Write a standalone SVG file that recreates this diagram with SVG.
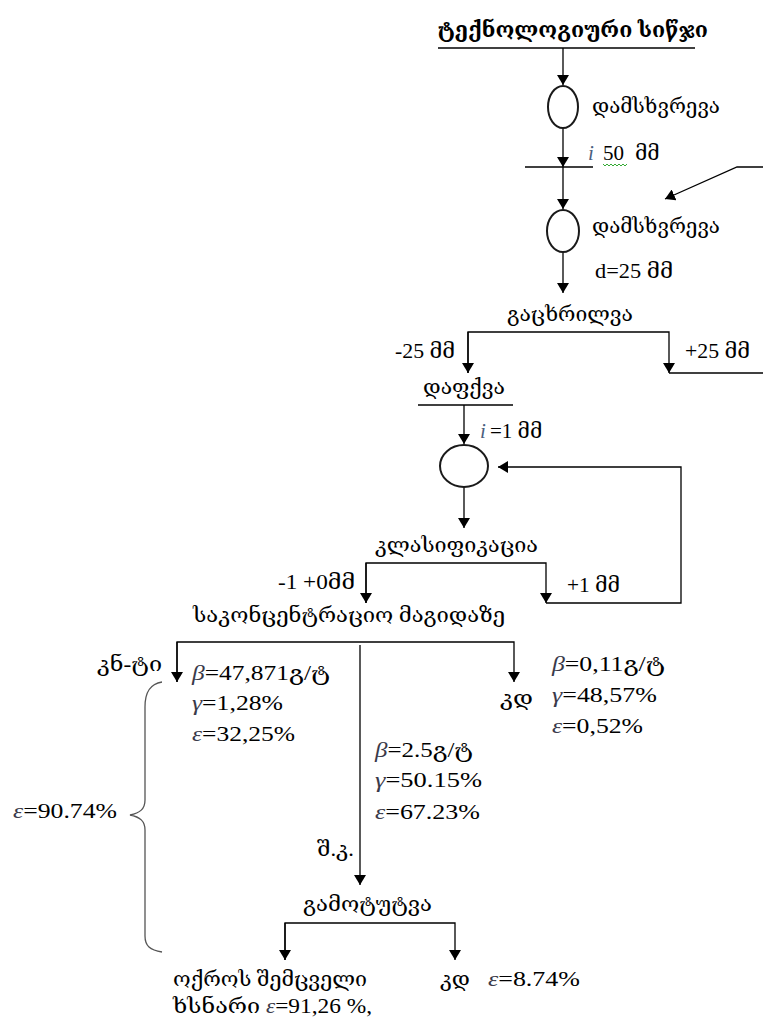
<svg xmlns="http://www.w3.org/2000/svg" width="763" height="1019" viewBox="0 0 763 1019">
<style>
text{font-family:"Liberation Serif","DejaVu Serif","DejaVu Sans",serif;font-size:20px;fill:#000}
.ka{font-size:20px}
.num{font-size:21px}
.g{font-style:italic;fill:#3a3a4a}
.iv{font-style:italic;fill:#4b5f80}
.title{font-size:22px;font-weight:bold}
.ln{stroke:#000;stroke-width:1.3;fill:none}
.ell{stroke:#1a1a1a;stroke-width:2;fill:#fff}
.br{stroke:#555;stroke-width:1.3;fill:none}
</style>
<defs>
<marker id="ah" viewBox="0 0 10 12" refX="10" refY="6" markerWidth="10" markerHeight="12" markerUnits="userSpaceOnUse" orient="auto">
<path d="M0,0 L10,6 L0,12 z" fill="#000"/>
</marker>
</defs>
<rect width="763" height="1019" fill="#fff"/>

<g id="connectors">
<path class="ln" d="M438,48 H695"/>
<path class="ln" d="M563,48 V85" marker-end="url(#ah)"/>
<path class="ln" d="M563,128 V167" marker-end="url(#ah)"/>
<path class="ln" d="M525,167 H593"/>
<path class="ln" d="M563,167 V209" marker-end="url(#ah)"/>
<path class="ln" d="M763,167 H737 L665,199" marker-end="url(#ah)"/>
<path class="ln" d="M563,252 V293" marker-end="url(#ah)"/>
<path class="ln" d="M468,373 V332 H669 V373" marker-end="url(#ah)"/>
<path class="ln" d="M468,332 V373" marker-end="url(#ah)"/>
<path class="ln" d="M669,373 H763"/>
<path class="ln" d="M418,405 H513"/>
<path class="ln" d="M464,405 V444" marker-end="url(#ah)"/>
<path class="ln" d="M464,487 V528" marker-end="url(#ah)"/>
<path class="ln" d="M366,603 V563 H546 V603" marker-end="url(#ah)"/>
<path class="ln" d="M366,563 V603" marker-end="url(#ah)"/>
<path class="ln" d="M546,603 H681 V467 H498" marker-end="url(#ah)"/>
<path class="ln" d="M177,682 V642 H514 V682" marker-end="url(#ah)"/>
<path class="ln" d="M177,642 V682" marker-end="url(#ah)"/>
<path class="ln" d="M360,645 V885" marker-end="url(#ah)"/>
<path class="ln" d="M285,960 V923 H455 V960" marker-end="url(#ah)"/>
<path class="ln" d="M285,923 V960" marker-end="url(#ah)"/>
<path class="br" d="M162,682 C150,684 145,692 145,707 L145,800 C145,809 140,813 130,815 C140,817 145,821 145,830 L145,936 C145,946 150,950 162,952"/>
</g>

<g id="title">
<text class="title" x="438" y="37" textLength="270" lengthAdjust="spacingAndGlyphs">ტექნოლოგიური სიწჯი</text>
</g>

<g id="crush1">
<ellipse class="ell" cx="563" cy="107" rx="15" ry="21"/>
<text class="ka" x="592" y="113" textLength="128" lengthAdjust="spacingAndGlyphs">დამსხვრევა</text>
<text class="num" x="588" y="160"><tspan class="iv">i</tspan><tspan x="603">50</tspan><tspan x="635">მმ</tspan></text>
<path d="M603,164 l2,2 l2,-2 l2,2 l2,-2 l2,2 l2,-2 l2,2 l2,-2 l2,2 l2,-2 l2,2 l2,-2" stroke="#3a3" stroke-width="1" fill="none"/>
</g>

<g id="crush2">
<ellipse class="ell" cx="563" cy="231" rx="16" ry="21"/>
<text class="ka" x="592" y="233" textLength="128" lengthAdjust="spacingAndGlyphs">დამსხვრევა</text>
<text class="num" x="595" y="278" textLength="78" lengthAdjust="spacingAndGlyphs">d=25 მმ</text>
</g>

<g id="screen">
<text class="ka" x="507" y="321" textLength="126" lengthAdjust="spacingAndGlyphs">გაცხრილვა</text>
<text class="num" x="395" y="358" textLength="60" lengthAdjust="spacingAndGlyphs">-25 მმ</text>
<text class="num" x="685" y="358" textLength="65" lengthAdjust="spacingAndGlyphs">+25 მმ</text>
</g>

<g id="grinding">
<text class="ka" x="423" y="394" textLength="82" lengthAdjust="spacingAndGlyphs">დაფქვა</text>
<text class="num" x="480" y="438"><tspan class="iv">i</tspan><tspan x="490">=1 მმ</tspan></text>
<ellipse class="ell" cx="464" cy="466" rx="24" ry="21"/>
</g>

<g id="classification">
<text class="ka" x="375" y="552" textLength="163" lengthAdjust="spacingAndGlyphs">კლასიფიკაცია</text>
<text class="num" x="278" y="589" textLength="77" lengthAdjust="spacingAndGlyphs">-1 +0მმ</text>
<text class="num" x="567" y="592" textLength="53" lengthAdjust="spacingAndGlyphs">+1 მმ</text>
</g>

<g id="table">
<text class="ka" x="193" y="622" textLength="312" lengthAdjust="spacingAndGlyphs">საკონცენტრაციო მაგიდაზე</text>
</g>

<g id="concentrate">
<text class="ka" x="97" y="671" textLength="65" lengthAdjust="spacingAndGlyphs">კნ-ტი</text>
<text class="num" x="192" y="680" textLength="138" lengthAdjust="spacingAndGlyphs"><tspan class="g">β</tspan>=47,871გ/ტ</text>
<text class="num" x="192" y="710" textLength="91" lengthAdjust="spacingAndGlyphs"><tspan class="g">γ</tspan>=1,28%</text>
<text class="num" x="192" y="741" textLength="103" lengthAdjust="spacingAndGlyphs"><tspan class="g">ε</tspan>=32,25%</text>
</g>

<g id="tailings1">
<text class="ka" x="500" y="705" textLength="33" lengthAdjust="spacingAndGlyphs">კდ</text>
<text class="num" x="552" y="671" textLength="113" lengthAdjust="spacingAndGlyphs"><tspan class="g">β</tspan>=0,11გ/ტ</text>
<text class="num" x="552" y="702" textLength="105" lengthAdjust="spacingAndGlyphs"><tspan class="g">γ</tspan>=48,57%</text>
<text class="num" x="552" y="733" textLength="91" lengthAdjust="spacingAndGlyphs"><tspan class="g">ε</tspan>=0,52%</text>
</g>

<g id="middlings">
<text class="num" x="375" y="757" textLength="98" lengthAdjust="spacingAndGlyphs"><tspan class="g">β</tspan>=2.5გ/ტ</text>
<text class="num" x="375" y="787" textLength="107" lengthAdjust="spacingAndGlyphs"><tspan class="g">γ</tspan>=50.15%</text>
<text class="num" x="375" y="819" textLength="105" lengthAdjust="spacingAndGlyphs"><tspan class="g">ε</tspan>=67.23%</text>
<text class="num" x="317" y="856" textLength="37" lengthAdjust="spacingAndGlyphs">შ.კ.</text>
</g>

<g id="total">
<text class="num" x="13" y="818" textLength="104" lengthAdjust="spacingAndGlyphs"><tspan class="g">ε</tspan>=90.74%</text>
</g>

<g id="leaching">
<text class="ka" x="303" y="911" textLength="129" lengthAdjust="spacingAndGlyphs">გამოტუტვა</text>
</g>

<g id="solution">
<text class="ka" x="173" y="986" textLength="194" lengthAdjust="spacingAndGlyphs">ოქროს შემცველი</text>
<text class="num" x="173" y="1013" textLength="199" lengthAdjust="spacingAndGlyphs">ხსნარი <tspan class="g">ε</tspan>=91,26 %,</text>
</g>

<g id="tailings2">
<text class="ka" x="440" y="986" textLength="30" lengthAdjust="spacingAndGlyphs">კდ</text>
<text class="num" x="488" y="986" textLength="92" lengthAdjust="spacingAndGlyphs"><tspan class="g">ε</tspan>=8.74%</text>
</g>
</svg>
